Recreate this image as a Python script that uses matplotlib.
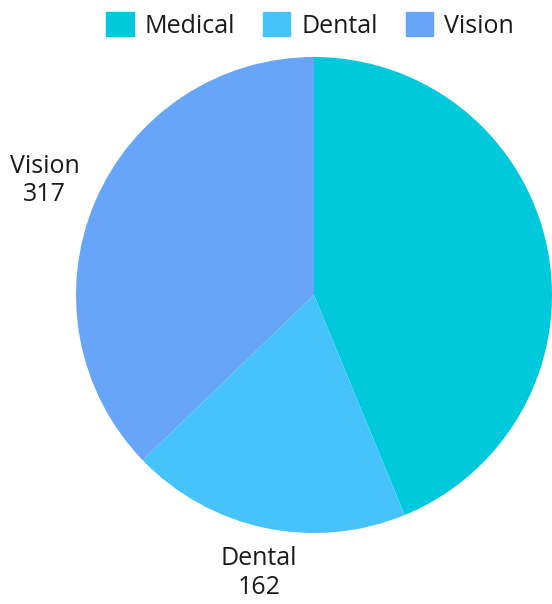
import matplotlib.pyplot as plt
import matplotlib.patches as mpatches

plt.rcParams['font.family'] = ['Open Sans', 'DejaVu Sans']

categories = ['Medical', 'Dental', 'Vision']
values = [373, 162, 317]
colors = ['#00c9dc', '#47c3fb', '#66a5f8']

fig = plt.figure(figsize=(5.52, 6.04), dpi=100)
ax = fig.add_axes([76 / 552, 71 / 604, 476 / 552, 476 / 604])

labels = [c + '\n' + str(v) for c, v in zip(categories, values)]
wedges, texts = ax.pie(values, colors=colors, labels=labels, startangle=90,
                       counterclock=False, labeldistance=1.23,
                       wedgeprops=dict(linewidth=0),
                       textprops=dict(fontsize=18, color='#1a1a1a'))
for t in texts:
    t.set_ha('center')
    t.set_va('center')
    t.set_linespacing(1.2)
# medical label falls off the right edge in the original, so it is not shown
texts[0].set_visible(False)
# nudge dental label up a bit so it stays inside the figure
x, y = texts[1].get_position()
texts[1].set_position((x + 0.02, y + 0.035))
ax.set_xlim(-1, 1)
ax.set_ylim(-1, 1)

handles = [mpatches.Patch(color=c, label=n) for c, n in zip(colors, categories)]
fig.legend(handles=handles, loc='center', bbox_to_anchor=(0.562, 0.958), ncol=3,
           frameon=False, fontsize=18, handlelength=1.1, handleheight=1.1,
           handletextpad=0.45, columnspacing=1.1, labelcolor='#1a1a1a')

fig.savefig('out.png', dpi=100)
